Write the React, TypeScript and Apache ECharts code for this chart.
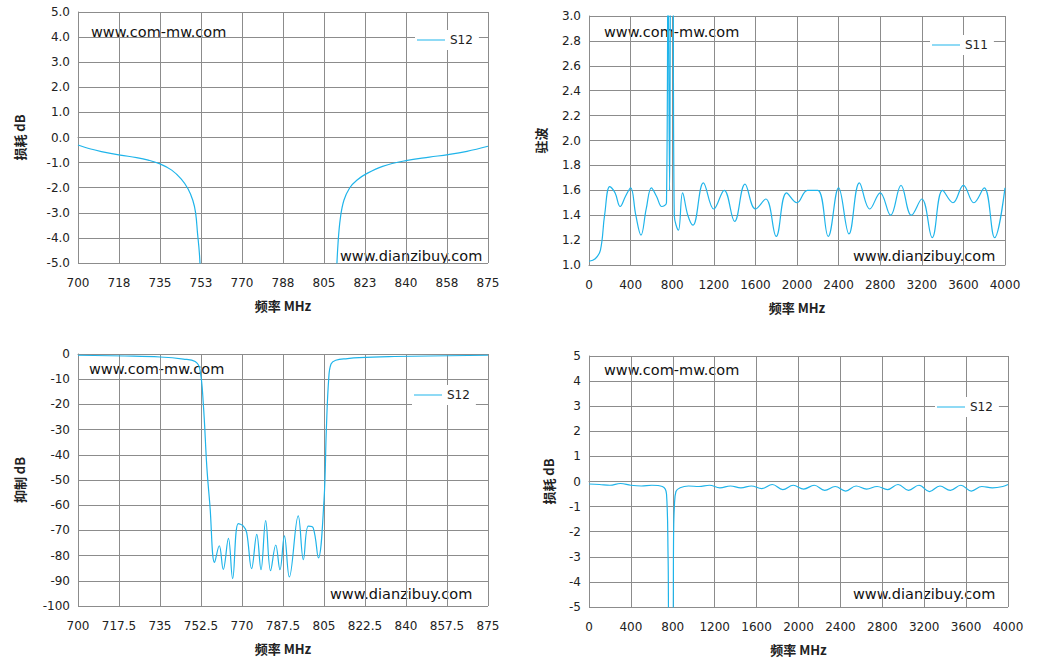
import React, { useRef, useEffect } from 'react';
import * as echarts from 'echarts';

// S12 passband loss (700-875 MHz)
const lossFreq = [700, 705, 710, 718, 725, 730, 735, 740, 744, 747, 749, 750.2, 751, 751.8, 752.3, null, 810.3, 811, 812, 813.5, 816, 819, 823, 830, 840, 850, 858, 866, 875];
const lossVal = [-0.3, -0.45, -0.56, -0.7, -0.8, -0.9, -1.05, -1.3, -1.65, -2.05, -2.5, -3.0, -3.8, -4.6, -5.5, null, -5.5, -4.2, -3.2, -2.5, -2.0, -1.7, -1.45, -1.15, -0.92, -0.78, -0.68, -0.55, -0.35];

// S11 VSWR (0-4000 MHz)
const vswrFreq = [0, 60, 110, 150, 200, 250, 300, 350, 400, 450, 500, 550, 600, 650, 700, 745, 760, 775, 790, 805, 820, 860, 900, 950, 1000, 1100, 1200, 1300, 1400, 1500, 1600, 1700, 1800, 1900, 2000, 2100, 2200, 2300, 2400, 2500, 2600, 2700, 2800, 2900, 3000, 3100, 3200, 3300, 3400, 3500, 3600, 3700, 3800, 3900, 4000];
const vswrVal = [1.03, 1.05, 1.12, 1.4, 1.63, 1.58, 1.47, 1.55, 1.62, 1.4, 1.24, 1.45, 1.62, 1.55, 1.47, 1.5, 3.6, 1.6, 3.6, 3.6, 1.4, 1.28, 1.58, 1.4, 1.32, 1.66, 1.45, 1.6, 1.35, 1.65, 1.45, 1.53, 1.23, 1.58, 1.5, 1.6, 1.6, 1.23, 1.62, 1.25, 1.66, 1.45, 1.58, 1.4, 1.64, 1.4, 1.53, 1.22, 1.6, 1.5, 1.64, 1.5, 1.62, 1.22, 1.62];

// S12 rejection (700-875 MHz)
const rejFreq = [700, 720, 735, 745, 750, 752, 753.5, 755, 756.3, 758.3, 760.3, 762, 764.2, 766, 768.4, 770.6, 772, 774.1, 776.3, 778.1, 780.1, 782.2, 784.4, 786.2, 788.1, 790.2, 794, 796.2, 798.3, 800.4, 802.6, 805, 806, 807, 808, 810, 815, 820, 835, 850, 875];
const rejVal = [-0.5, -0.8, -1.2, -2, -3, -6, -20, -45, -60, -82.7, -76.1, -85.5, -73.2, -89.1, -67.3, -68.3, -70.9, -85.2, -71.6, -85.6, -66.1, -86, -75.8, -85.6, -72.2, -88.5, -64.2, -81.6, -68.3, -69, -80.9, -58, -30, -10, -4, -2.5, -1.8, -1.4, -1, -0.8, -0.5];

// S12 wideband loss (0-4000 MHz)
const wideFreq = [0, 100, 200, 300, 400, 500, 600, 700, 740, 755, 765, 800, 808, 815, 830, 870, 950, 1050, 1150, 1250, 1350, 1450, 1550, 1650, 1750, 1850, 1950, 2050, 2150, 2250, 2350, 2450, 2550, 2650, 2750, 2850, 2950, 3050, 3150, 3250, 3350, 3450, 3550, 3650, 3750, 3850, 3950, 4000];
const wideVal = [-0.1, -0.12, -0.15, -0.08, -0.15, -0.18, -0.15, -0.2, -0.5, -3, -6, -6, -2, -1, -0.4, -0.25, -0.18, -0.2, -0.15, -0.25, -0.18, -0.25, -0.18, -0.28, -0.12, -0.32, -0.15, -0.3, -0.15, -0.35, -0.2, -0.38, -0.18, -0.3, -0.2, -0.32, -0.12, -0.35, -0.15, -0.4, -0.18, -0.35, -0.15, -0.38, -0.2, -0.25, -0.2, -0.12];

const zip = (xs: (number | null)[], ys: (number | null)[]) => xs.map((x, i) => (x === null ? [null, null] : [x, ys[i]]));

const LINE = '#1fb4ea';
const GRID_LINE = '#8c8c8c';
const FONT = 'DejaVu Sans';
const CJK = 'Noto Sans CJK SC';

const grids = [
  { left: 78, top: 12, width: 410, height: 251 },
  { left: 589, top: 16, width: 416, height: 249 },
  { left: 78, top: 354, width: 410, height: 252 },
  { left: 589, top: 356, width: 419, height: 251 },
];

const axisCommon = {
  axisLine: { show: true, lineStyle: { color: GRID_LINE } },
  axisTick: { show: false },
  splitLine: { show: true, lineStyle: { color: GRID_LINE, width: 1 } },
  axisLabel: { color: '#222', fontSize: 12, fontFamily: FONT },
  nameTextStyle: { color: '#222', fontSize: 13, fontWeight: 'bold' as const, fontFamily: CJK },
};

const plain = (v: number) => String(v);

export default function App() {
  const ref = useRef<HTMLDivElement>(null);

  useEffect(() => {
    document.body.style.margin = '0';
    if (!ref.current) return;
    const chart = echarts.init(ref.current, undefined, { renderer: 'svg' });

    const xAxis = [
      { ...axisCommon, gridIndex: 0, type: 'value', min: 700, max: 875, interval: 17.5, name: '频率 MHz', nameLocation: 'middle', nameGap: 36, axisLabel: { ...axisCommon.axisLabel, margin: 14, formatter: (v: number) => String(Math.round(v)) } },
      { ...axisCommon, gridIndex: 1, type: 'value', min: 0, max: 4000, interval: 400, name: '频率 MHz', nameLocation: 'middle', nameGap: 36, axisLabel: { ...axisCommon.axisLabel, margin: 14, formatter: plain } },
      { ...axisCommon, gridIndex: 2, type: 'value', min: 700, max: 875, interval: 17.5, name: '频率 MHz', nameLocation: 'middle', nameGap: 36, axisLabel: { ...axisCommon.axisLabel, margin: 14, formatter: plain } },
      { ...axisCommon, gridIndex: 3, type: 'value', min: 0, max: 4000, interval: 400, name: '频率 MHz', nameLocation: 'middle', nameGap: 36, axisLabel: { ...axisCommon.axisLabel, margin: 14, formatter: plain } },
    ];
    const yAxis = [
      { ...axisCommon, gridIndex: 0, type: 'value', min: -5, max: 5, interval: 1, name: '损耗 dB', nameLocation: 'middle', nameGap: 52, axisLabel: { ...axisCommon.axisLabel, formatter: (v: number) => v.toFixed(1) } },
      { ...axisCommon, gridIndex: 1, type: 'value', min: 1, max: 3, interval: 0.2, name: '驻波', nameLocation: 'middle', nameGap: 42, axisLabel: { ...axisCommon.axisLabel, formatter: (v: number) => v.toFixed(1) } },
      { ...axisCommon, gridIndex: 2, type: 'value', min: -100, max: 0, interval: 10, name: '抑制 dB', nameLocation: 'middle', nameGap: 52 },
      { ...axisCommon, gridIndex: 3, type: 'value', min: -5, max: 5, interval: 1, name: '损耗 dB', nameLocation: 'middle', nameGap: 34 },
    ];

    const mk = (name: string, idx: number, data: any[]) => ({
      name: name + idx,
      type: 'line',
      xAxisIndex: idx,
      yAxisIndex: idx,
      data,
      smooth: 0.4,
      showSymbol: false,
      clip: true,
      connectNulls: false,
      lineStyle: { color: LINE, width: 1.2 },
      itemStyle: { color: LINE },
    });

    const legendPos = [
      { left: 415, top: 30, label: 'S12' },
      { left: 930, top: 35, label: 'S11' },
      { left: 412, top: 385, label: 'S12' },
      { left: 935, top: 397, label: 'S12' },
    ];

    const legend = legendPos.map((p, i) => ({
      data: [(i === 1 ? 'S11' : 'S12') + i],
      left: p.left,
      top: p.top,
      backgroundColor: '#fff',
      padding: [4, 6, 4, 2],
      itemWidth: 28,
      itemHeight: 1,
      icon: 'rect',
      formatter: () => p.label,
      textStyle: { color: '#222', fontSize: 12, fontFamily: FONT },
    }));

    const wm = (x: number, y: number, text: string) => ({
      type: 'text', left: x, top: y,
      style: { text, fill: '#111', fontSize: 14.5, fontFamily: FONT },
    });

    chart.setOption({
      animation: false,
      grid: grids,
      xAxis,
      yAxis,
      legend,
      series: [
        mk('S12', 0, zip(lossFreq, lossVal)),
        mk('S11', 1, zip(vswrFreq, vswrVal)),
        mk('S12', 2, zip(rejFreq, rejVal)),
        mk('S12', 3, zip(wideFreq, wideVal)),
      ],
      graphic: [
        wm(91, 24, 'www.com-mw.com'),
        wm(340, 248, 'www.dianzibuy.com'),
        wm(604, 24, 'www.com-mw.com'),
        wm(853, 248, 'www.dianzibuy.com'),
        wm(89, 361, 'www.com-mw.com'),
        wm(330, 586, 'www.dianzibuy.com'),
        wm(604, 362, 'www.com-mw.com'),
        wm(853, 586, 'www.dianzibuy.com'),
      ],
    } as any);

    return () => chart.dispose();
  }, []);

  return <div ref={ref} style={{ width: 1037, height: 667, background: '#fff' }} />;
}
